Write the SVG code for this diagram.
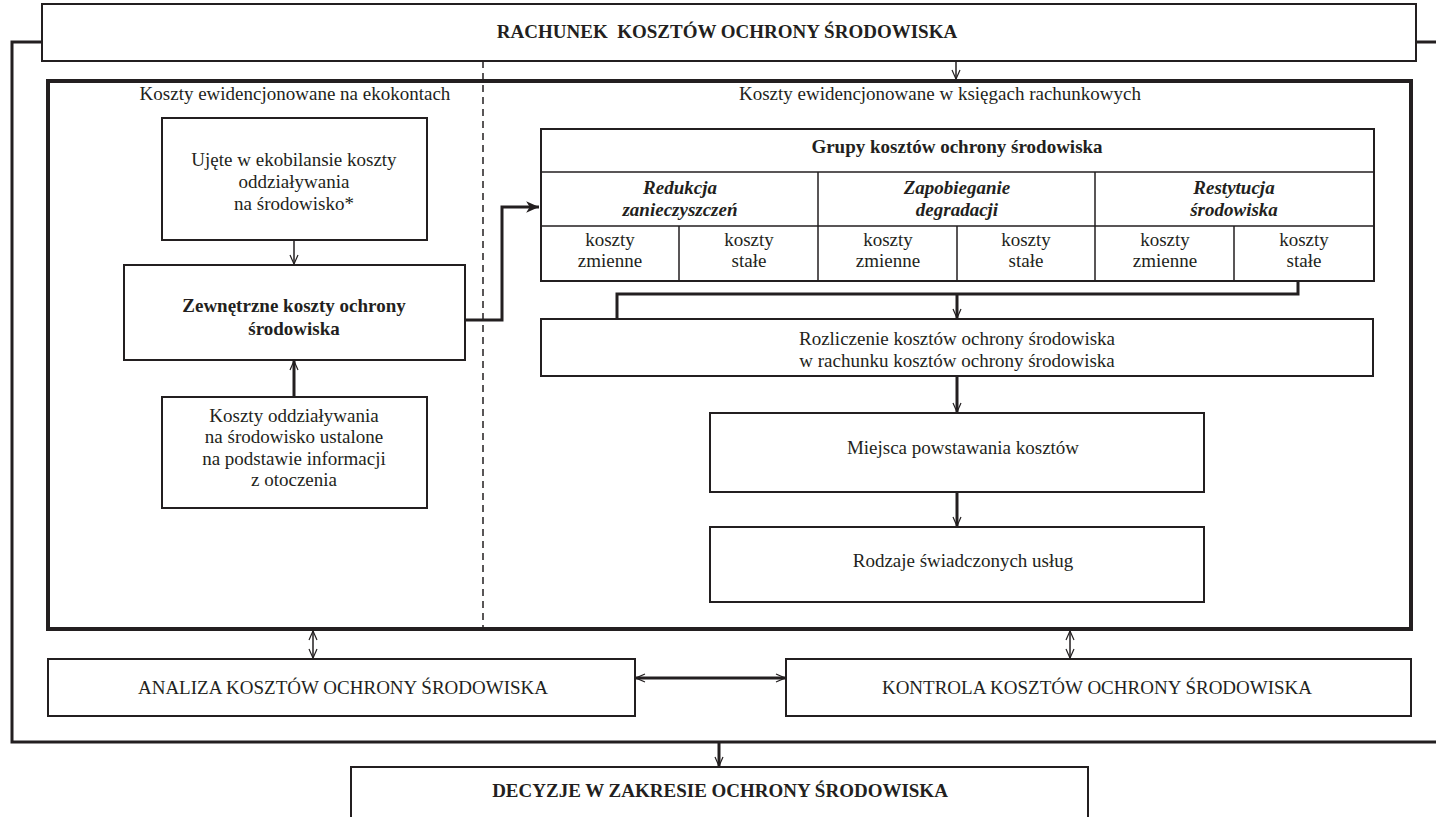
<svg xmlns="http://www.w3.org/2000/svg" width="1436" height="817" viewBox="0 0 1436 817">
<defs>
<style>
.bx{fill:#fff;stroke:#231f20;stroke-width:2}
.t{font-family:"Liberation Serif","Times New Roman",serif;font-size:19px;fill:#231f20;text-anchor:middle}
.b{font-weight:bold}
.bi{font-weight:bold;font-style:italic}
.ln{fill:none;stroke:#231f20;stroke-width:1.5}
.th{fill:none;stroke:#231f20;stroke-width:3}
.fr{fill:none;stroke:#231f20;stroke-width:4}
</style>
<marker id="ah" viewBox="0 0 10 10" refX="10" refY="5" markerWidth="10" markerHeight="10" markerUnits="userSpaceOnUse" orient="auto-start-reverse">
<path d="M1,1 L10,5 L1,9" fill="none" stroke="#231f20" stroke-width="1.2"/>
</marker>
<marker id="ahb" viewBox="0 0 12 10" refX="11" refY="5" markerWidth="14" markerHeight="12" markerUnits="userSpaceOnUse" orient="auto-start-reverse">
<path d="M0,0 L11,5 L0,10 L3,5 Z" fill="#231f20"/>
</marker>
</defs>
<rect width="1436" height="817" fill="#fff"/>

<g id="frames">
<path class="th" d="M42,42 H12 V742 H1436"/>
<path class="th" d="M1416,42 H1436"/>
<rect class="fr" x="48" y="81" width="1363" height="548"/>
<line x1="483" y1="61" x2="483" y2="629" stroke="#231f20" stroke-width="1.5" stroke-dasharray="7,5"/>
</g>

<g id="n-rachunek"><rect class="bx" x="42" y="4" width="1374" height="57"/><text class="t b" x="727" y="38" xml:space="preserve">RACHUNEK  KOSZTÓW OCHRONY ŚRODOWISKA</text></g>
<g id="lbl-left"><text class="t" x="295" y="100">Koszty ewidencjonowane na ekokontach</text></g>
<g id="lbl-right"><text class="t" x="940" y="100">Koszty ewidencjonowane w księgach rachunkowych</text></g>

<g id="n-ujete"><rect class="bx" x="162" y="118" width="265" height="122"/>
<text class="t" x="294" y="166">Ujęte w ekobilansie koszty</text>
<text class="t" x="294" y="188">oddziaływania</text>
<text class="t" x="294" y="210">na środowisko*</text></g>

<g id="n-zewn"><rect class="bx" x="124" y="265" width="341" height="95"/>
<text class="t b" x="294" y="312">Zewnętrzne koszty ochrony</text>
<text class="t b" x="294" y="335">środowiska</text></g>

<g id="n-koszty-odd"><rect class="bx" x="162" y="397" width="265" height="111"/>
<text class="t" x="294" y="422">Koszty oddziaływania</text>
<text class="t" x="294" y="443">na środowisko ustalone</text>
<text class="t" x="294" y="465">na podstawie informacji</text>
<text class="t" x="294" y="486">z otoczenia</text></g>

<g id="n-grupy">
<rect class="bx" x="541" y="129" width="833" height="152"/>
<path class="ln" d="M541,172 H1374 M541,226 H1374 M818,172 V281 M1095,172 V281 M679,226 V281 M957,226 V281 M1234,226 V281" stroke-width="2"/>
<text class="t b" x="957" y="153">Grupy kosztów ochrony środowiska</text>
<text class="t bi" x="680" y="194">Redukcja</text><text class="t bi" x="680" y="216">zanieczyszczeń</text>
<text class="t bi" x="957" y="194">Zapobieganie</text><text class="t bi" x="957" y="216">degradacji</text>
<text class="t bi" x="1234" y="194">Restytucja</text><text class="t bi" x="1234" y="216">środowiska</text>
<text class="t" x="610" y="246">koszty</text><text class="t" x="610" y="267">zmienne</text>
<text class="t" x="749" y="246">koszty</text><text class="t" x="749" y="267">stałe</text>
<text class="t" x="888" y="246">koszty</text><text class="t" x="888" y="267">zmienne</text>
<text class="t" x="1026" y="246">koszty</text><text class="t" x="1026" y="267">stałe</text>
<text class="t" x="1165" y="246">koszty</text><text class="t" x="1165" y="267">zmienne</text>
<text class="t" x="1304" y="246">koszty</text><text class="t" x="1304" y="267">stałe</text>
</g>

<g id="n-rozliczenie"><rect class="bx" x="541" y="319" width="832" height="57"/>
<text class="t" x="957" y="345">Rozliczenie kosztów ochrony środowiska</text>
<text class="t" x="957" y="367">w rachunku kosztów ochrony środowiska</text></g>

<g id="n-miejsca"><rect class="bx" x="710" y="413" width="494" height="79"/>
<text class="t" x="963" y="454">Miejsca powstawania kosztów</text></g>

<g id="n-rodzaje"><rect class="bx" x="710" y="527" width="494" height="75"/>
<text class="t" x="963" y="567">Rodzaje świadczonych usług</text></g>

<g id="n-analiza"><rect class="bx" x="48" y="659" width="587" height="57"/>
<text class="t" x="343" y="694">ANALIZA KOSZTÓW OCHRONY ŚRODOWISKA</text></g>

<g id="n-kontrola"><rect class="bx" x="786" y="659" width="625" height="57"/>
<text class="t" x="1097" y="694">KONTROLA KOSZTÓW OCHRONY ŚRODOWISKA</text></g>

<g id="n-decyzje"><rect class="bx" x="351" y="767" width="737" height="60"/>
<text class="t b" x="720" y="797">DECYZJE W ZAKRESIE OCHRONY ŚRODOWISKA</text></g>

<g id="connectors">
<line class="ln" x1="956" y1="61" x2="956" y2="79" marker-end="url(#ah)"/>
<line class="ln" x1="294" y1="240" x2="294" y2="264" marker-end="url(#ah)"/>
<line class="th" x1="294" y1="397" x2="294" y2="361" marker-end="url(#ah)"/>
<path class="th" d="M465,320 H502 V207 H539" marker-end="url(#ahb)"/>
<path class="th" d="M1298,281 V294 H617 V319"/>
<line class="th" x1="957" y1="294" x2="957" y2="318" marker-end="url(#ah)"/>
<line class="th" x1="957" y1="376" x2="957" y2="412" marker-end="url(#ah)"/>
<line class="th" x1="957" y1="492" x2="957" y2="526" marker-end="url(#ah)"/>
<line class="ln" x1="313" y1="631" x2="313" y2="658" marker-start="url(#ah)" marker-end="url(#ah)"/>
<line class="ln" x1="1070" y1="631" x2="1070" y2="658" marker-start="url(#ah)" marker-end="url(#ah)"/>
<line class="th" x1="636" y1="678" x2="785" y2="678" marker-start="url(#ah)" marker-end="url(#ah)"/>
<line class="th" x1="719" y1="743" x2="719" y2="766" marker-end="url(#ah)"/>
</g>
</svg>
